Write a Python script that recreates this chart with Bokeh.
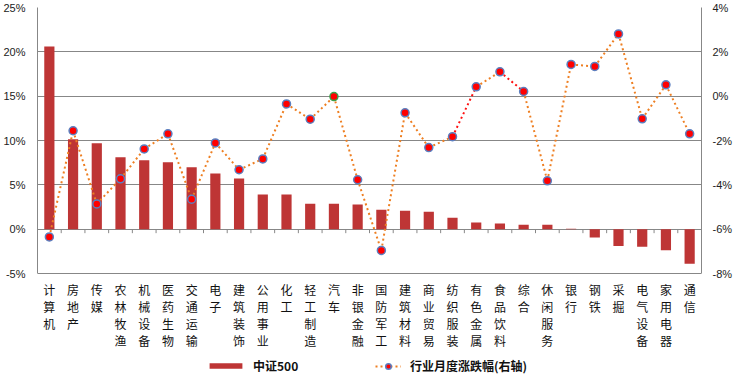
from bokeh.plotting import figure
from bokeh.models import (Range1d, LinearAxis, FixedTicker, PrintfTickFormatter,
                          Legend, LegendItem, ColumnDataSource)
from bokeh.core.properties import value
from bokeh.embed import file_html
from bokeh.resources import INLINE

categories = ["计算机", "房地产", "传媒", "农林牧渔", "机械设备", "医药生物", "交通运输",
              "电子", "建筑装饰", "公用事业", "化工", "轻工制造", "汽车", "非银金融",
              "国防军工", "建筑材料", "商业贸易", "纺织服装", "有色金属", "食品饮料",
              "综合", "休闲服务", "银行", "钢铁", "采掘", "电气设备", "家用电器", "通信"]
# 中证500 (left axis, %)
csi500 = [20.6, 10.15, 9.7, 8.1, 7.77, 7.54, 6.97, 6.29, 5.72, 3.9, 3.9, 2.88, 2.88, 2.77,
          2.2, 2.08, 1.97, 1.29, 0.76, 0.64, 0.49, 0.49, 0.05, -0.95, -1.9, -1.97, -2.39, -3.9]
# 行业月度涨跌幅 (right axis, %)
monthly = [-6.35, -1.56, -4.86, -3.73, -2.38, -1.70, -4.65, -2.11, -3.32, -2.83, -0.35,
           -1.04, -0.02, -3.77, -6.96, -0.75, -2.32, -1.83, 0.42, 1.10, 0.21, -3.82,
           1.43, 1.34, 2.81, -1.02, 0.51, -1.70]
left_ticks = [-5, 0, 5, 10, 15, 20, 25]
right_ticks = [-8, -6, -4, -2, 0, 2, 4]
red_segment_starts = ["纺织服装", "食品饮料"]
green_marker = "汽车"

n = len(categories)
xs = list(range(n))

ORANGE = "#EE7F22"
BAR = "#BE3535"
GRID = "#878787"

# layout: plot area 266px tall for the axis span, 102px extra below for labels/legend
AXIS_PX = 266
EXTRA_PX = 102


def extended(lo, hi):
    return Range1d(lo - (hi - lo) * EXTRA_PX / AXIS_PX, hi)


p = figure(frame_width=664, frame_height=AXIS_PX + EXTRA_PX, output_backend="svg",
           toolbar_location=None,
           x_range=Range1d(-0.5, n - 0.5), y_range=extended(left_ticks[0], left_ticks[-1]),
           min_border_left=34, min_border_right=35, min_border_top=7, min_border_bottom=0)
p.extra_y_ranges = {"right": extended(right_ticks[0], right_ticks[-1])}
p.outline_line_color = None
p.background_fill_color = "white"
p.border_fill_color = "white"
p.xaxis.visible = False

# grid
p.xgrid.visible = False
p.ygrid.ticker = FixedTicker(ticks=left_ticks)
p.ygrid.grid_line_color = GRID
p.ygrid.grid_line_width = 1

# left axis
p.yaxis.ticker = FixedTicker(ticks=left_ticks)
p.yaxis.bounds = (left_ticks[0], left_ticks[-1])
p.yaxis.formatter = PrintfTickFormatter(format="%d%%")
p.yaxis.axis_line_color = GRID
p.yaxis.major_tick_line_color = None
p.yaxis.minor_tick_line_color = None
p.yaxis.major_label_text_font = "Liberation Sans"
p.yaxis.major_label_text_font_size = "11px"
p.yaxis.major_label_text_color = "#222222"
p.yaxis.major_label_standoff = 6

# right axis
ra = LinearAxis(y_range_name="right", ticker=FixedTicker(ticks=right_ticks),
                formatter=PrintfTickFormatter(format="%d%%"),
                bounds=(right_ticks[0], right_ticks[-1]))
ra.axis_line_color = GRID
ra.major_tick_line_color = None
ra.minor_tick_line_color = None
ra.major_label_text_font = "Liberation Sans"
ra.major_label_text_font_size = "11px"
ra.major_label_text_color = "#222222"
ra.major_label_standoff = 5
p.add_layout(ra, "right")

# category labels (vertical text), under the plot area
lab_src = ColumnDataSource(dict(x=xs, y=[left_ticks[0]] * n,
                                t=["\n".join(c) for c in categories]))
p.text(x="x", y="y", text="t", source=lab_src, text_font=value("Noto Sans CJK SC"),
       text_font_size="12px", text_align="center", text_baseline="top",
       text_line_height=1.0, y_offset=7, text_color="#111111")

# tick marks along the zero line
bounds = [i + 0.5 for i in range(-1, n)]
p.segment(x0=bounds, y0=[0] * len(bounds), x1=bounds, y1=[-0.45] * len(bounds),
          line_color=GRID, line_width=1)

# bars
bars = p.vbar(x=xs, top=csi500, bottom=0, width=0.43, fill_color=BAR, line_color=None)

# line segments (right axis)
seg_colors = []
for i in range(n - 1):
    seg_colors.append("#FF1010" if categories[i] in red_segment_starts else ORANGE)
seg_src = ColumnDataSource(dict(x0=xs[:-1], y0=monthly[:-1], x1=xs[1:], y1=monthly[1:],
                                color=seg_colors))
segs = p.segment(x0="x0", y0="y0", x1="x1", y1="y1", source=seg_src, line_color="color",
                 line_width=2, line_dash="2 3", y_range_name="right")

outline = ["#3CA04A" if c == green_marker else "#5B7FC0" for c in categories]
pts = p.scatter(x=xs, y=monthly, size=8, fill_color="#FF0000", line_color=outline,
                line_width=1.5, y_range_name="right")

common = dict(orientation="horizontal", label_text_font="Noto Sans CJK SC",
              label_text_font_size="12px", label_text_font_style="bold",
              label_text_color="#111111", padding=0, margin=0, border_line_color=None,
              background_fill_alpha=0, label_height=14, spacing=0)
leg1 = Legend(items=[LegendItem(label="中证500", renderers=[bars])],
              location=(168, 1), glyph_width=41, glyph_height=7, label_standoff=7, **common)
leg2 = Legend(items=[LegendItem(label="行业月度涨跌幅(右轴)", renderers=[segs, pts])],
              location=(338, 1), glyph_width=26, glyph_height=14, label_standoff=9, **common)
p.add_layout(leg1, "center")
p.add_layout(leg2, "center")

open("out.html", "w").write(file_html(p, INLINE))
